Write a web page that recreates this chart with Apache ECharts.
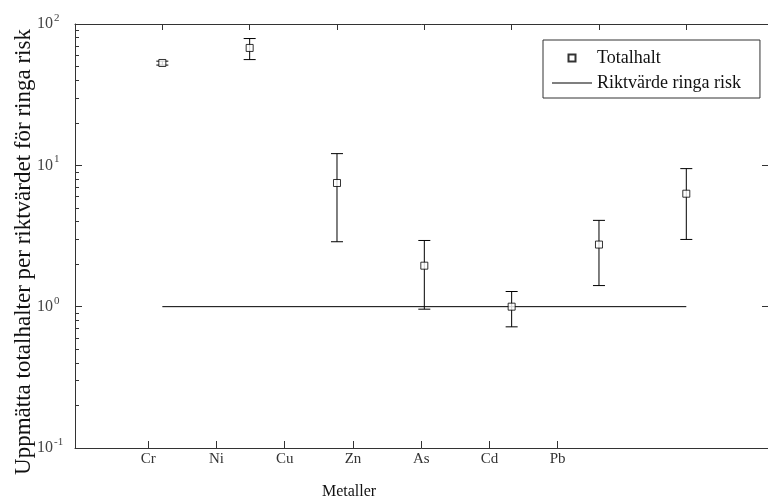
<!DOCTYPE html>
<html>
<head>
<meta charset="utf-8">
<script src="https://cdn.jsdelivr.net/npm/echarts@6/dist/echarts.min.js"></script>
<style>html,body{margin:0;padding:0;background:#fff;}#chart{width:768px;height:501px;}</style>
</head>
<body>
<div id="chart"></div>
<script>
// Data
var categories = ['Cr', 'Ni', 'Cu', 'Zn', 'As', 'Cd', 'Pb'];
var totalhalt = [53.0, 67.7, 7.5, 1.95, 1.0, 2.75, 6.3];
var upper = [54.6, 78.9, 12.1, 2.94, 1.28, 4.08, 9.48];
var lower = [51.2, 56.0, 2.88, 0.96, 0.72, 1.41, 2.99];
var riktvarde = 1;
var yTicks = [0.1, 1, 10, 100];
var minorTicks = [0.2,0.3,0.4,0.5,0.6,0.7,0.8,0.9,2,3,4,5,6,7,8,9,20,30,40,50,60,70,80,90];

var FONT = "'Liberation Serif','Times New Roman',serif";
var AX = '#333';
var positions = categories.map(function (c, i) { return i + 1; });

var chart = echarts.init(document.getElementById('chart'), null, {renderer: 'canvas'});
var option = {
  animation: false,
  backgroundColor: '#fff',
  grid: {left: 75, right: -1, top: 24, bottom: 53, containLabel: false, outerBoundsMode: 'none'},
  legend: {
    left: 543, top: 40,
    orient: 'vertical',
    data: [
      {name: 'Totalhalt', icon: 'path://M0,0H1V1H0Z'},
      {name: 'Riktvärde ringa risk', icon: 'path://M0,0H40V1H0Z'}
    ],
    symbolKeepAspect: true,
    borderColor: '#333', borderWidth: 1, borderRadius: 0,
    padding: [9, 19, 6, 9],
    itemWidth: 40, itemHeight: 7, itemGap: 7,
    textStyle: {fontFamily: FONT, fontSize: 18, color: '#111', lineHeight: 18},
    backgroundColor: '#fff'
  },
  xAxis: [
    {
      type: 'value', position: 'bottom', min: -0.074, max: 10.097,
      axisLine: {show: true, onZero: false, lineStyle: {color: AX, width: 1}},
      axisTick: {show: true, inside: true, length: 7, customValues: positions, lineStyle: {color: AX}},
      axisLabel: {show: true, customValues: positions, margin: 4, fontFamily: FONT, fontSize: 15, color: '#333',
        formatter: function (v) { return categories[Math.round(v) - 1] || ''; }},
      splitLine: {show: false}
    },
    {
      type: 'value', position: 'top', min: 0, max: 7.947,
      axisLine: {show: true, onZero: false, lineStyle: {color: AX, width: 1}},
      axisTick: {show: true, inside: true, length: 6, customValues: positions, lineStyle: {color: AX}},
      axisLabel: {show: false},
      splitLine: {show: false}
    }
  ],
  yAxis: [
    {
      type: 'log', logBase: 10, min: 0.1, max: 100, position: 'left',
      axisLine: {show: true, onZero: false, lineStyle: {color: AX, width: 1}},
      axisTick: {show: true, inside: true, length: 7, customValues: yTicks, lineStyle: {color: AX}},
      axisLabel: {show: true, customValues: yTicks, margin: 38, align: 'left', fontFamily: FONT, fontSize: 16, color: '#444',
        formatter: function (v) { var e = Math.round(Math.log10(v)); return '10{e|' + e + '}'; },
        rich: {e: {fontFamily: FONT, fontSize: 11, color: '#444', padding: [0, 0, 12, 1]}}},
      splitLine: {show: false}, minorTick: {show: false}
    },
    {
      type: 'log', logBase: 10, min: 0.1, max: 100, position: 'left', offset: 0,
      axisLine: {show: false, onZero: false},
      axisTick: {show: true, inside: true, length: 4, customValues: minorTicks, lineStyle: {color: AX}},
      axisLabel: {show: false},
      splitLine: {show: false}
    },
    {
      type: 'log', logBase: 10, min: 0.1, max: 100, position: 'right',
      axisLine: {show: false, onZero: false},
      axisTick: {show: true, inside: true, length: 7, customValues: [1, 10], lineStyle: {color: AX}},
      axisLabel: {show: false},
      splitLine: {show: false}
    }
  ],
  series: [
    {
      name: 'Riktvärde ringa risk', type: 'line', xAxisIndex: 1, yAxisIndex: 0,
      data: [[positions[0], riktvarde], [positions[positions.length - 1], riktvarde]],
      showSymbol: false, symbol: 'none',
      lineStyle: {color: '#000', width: 1}, itemStyle: {color: '#000'}, z: 2
    },
    {
      name: 'errorbars', type: 'custom', xAxisIndex: 1, yAxisIndex: 0,
      data: positions.map(function (p, i) { return [p, lower[i], upper[i]]; }),
      renderItem: function (params, api) {
        var x = api.value(0);
        var lo = api.coord([x, api.value(1)]);
        var hi = api.coord([x, api.value(2)]);
        var hw = 6;
        var st = {stroke: '#000', lineWidth: 1};
        return {type: 'group', children: [
          {type: 'line', shape: {x1: lo[0], y1: lo[1], x2: hi[0], y2: hi[1]}, style: st},
          {type: 'line', shape: {x1: lo[0] - hw, y1: lo[1], x2: lo[0] + hw, y2: lo[1]}, style: st},
          {type: 'line', shape: {x1: hi[0] - hw, y1: hi[1], x2: hi[0] + hw, y2: hi[1]}, style: st}
        ]};
      },
      z: 3
    },
    {
      name: 'Totalhalt', type: 'scatter', xAxisIndex: 1, yAxisIndex: 0,
      data: positions.map(function (p, i) { return [p, totalhalt[i]]; }),
      symbol: 'rect', symbolSize: 7,
      itemStyle: {color: '#fff', borderColor: '#000', borderWidth: 1},
      z: 4
    }
  ],
  graphic: [
    {type: 'text', x: 24, y: 252, rotation: Math.PI / 2,
      style: {text: 'Uppmätta totalhalter per riktvärdet för ringa risk', font: '23px ' + FONT, fill: '#111', align: 'center', verticalAlign: 'middle'}},
    {type: 'text', x: 349, y: 492,
      style: {text: 'Metaller', font: '16px ' + FONT, fill: '#111', align: 'center', verticalAlign: 'middle'}}
  ]
};
chart.setOption(option);
</script>
</body>
</html>
